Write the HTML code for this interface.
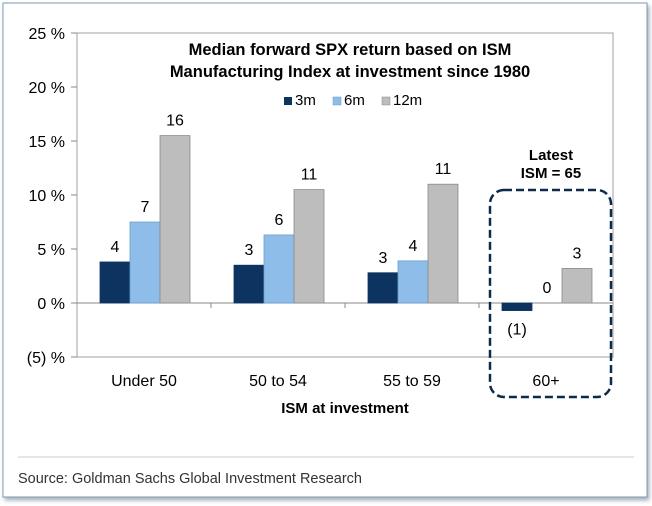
<!DOCTYPE html>
<html><head><meta charset="utf-8"><style>
html,body{margin:0;padding:0;background:#fff;width:652px;height:506px;overflow:hidden}
svg{display:block;font-family:"Liberation Sans",Arial,sans-serif}
</style></head><body>
<svg width="652" height="506" viewBox="0 0 652 506">
<defs><filter id="sh" x="-5%" y="-5%" width="110%" height="110%"><feDropShadow dx="2" dy="3" stdDeviation="2" flood-color="#6a7f90" flood-opacity="0.6"/></filter></defs>
<rect x="3" y="3" width="644" height="494" fill="#fff" stroke="#7d9ab0" stroke-width="1" filter="url(#sh)"/>
<g id="plot"></g>
<text x="350" y="55" text-anchor="middle" font-size="16.5" font-weight="bold">Median forward SPX return based on ISM</text>
<text x="350" y="77" text-anchor="middle" font-size="16.5" font-weight="bold">Manufacturing Index at investment since 1980</text>
<g font-size="15">
<rect x="284" y="97" width="8" height="8" fill="#0d3460"/><text x="295" y="105">3m</text>
<rect x="333" y="97" width="8" height="8" fill="#8dbde8" stroke="#6d9dc8" stroke-width="0.5"/><text x="344" y="105">6m</text>
<rect x="382" y="97" width="8" height="8" fill="#bdbdbd" stroke="#888" stroke-width="0.5"/><text x="393" y="105">12m</text>
</g>
<text x="551" y="160" text-anchor="middle" font-size="15" font-weight="bold">Latest</text>
<text x="551" y="178" text-anchor="middle" font-size="15" font-weight="bold">ISM = 65</text>
<rect x="490" y="190" width="121" height="207" rx="14" fill="none" stroke="#0d2a4d" stroke-width="2.5" stroke-dasharray="8,4"/>
<text x="345" y="413" text-anchor="middle" font-size="15" font-weight="bold">ISM at investment</text>
<line x1="18" y1="457" x2="634" y2="457" stroke="#ccc" stroke-width="1"/>
<text x="18" y="483" font-size="15" fill="#333" textLength="344" lengthAdjust="spacingAndGlyphs">Source: Goldman Sachs Global Investment Research</text>
</svg>
<script>
const categories = ["Under 50","50 to 54","55 to 59","60+"];
const series3m = [3.8, 3.5, 2.8, -0.7];
const series6m = [7.5, 6.3, 3.9, 0];
const series12m = [15.5, 10.5, 11.0, 3.2];
const labels3m = ["4","3","3","(1)"];
const labels6m = ["7","6","4","0"];
const labels12m = ["16","11","11","3"];
const yTicks = [25,20,15,10,5,0,-5];
const yTickLabels = ["25 %","20 %","15 %","10 %","5 %","0 %","(5) %"];

const NS="http://www.w3.org/2000/svg";
const g=document.getElementById('plot');
const L=77,R=613,T=33,B=357,ymin=-5,ymax=25;
const y=v=>B-(v-ymin)/(ymax-ymin)*(B-T);
const cw=(R-L)/categories.length;
const x=i=>L+i*cw;
function mk(tag,a){const e=document.createElementNS(NS,tag);for(const k in a)e.setAttribute(k,a[k]);g.appendChild(e);return e;}
let e=mk('rect',{x:L,y:T,width:R-L,height:B-T,fill:'none',stroke:'#a0a0a0','stroke-width':1});


yTicks.forEach((t,i)=>{
  let tk=mk('line',{x1:L-6,x2:L,y1:y(t),y2:y(t),stroke:'#888'});
  
  
  let tx=mk('text',{x:L-12,y:y(t)+6,'text-anchor':'end','font-size':16});
  tx.textContent=yTickLabels[i];
  
  
});
e=mk('line',{x1:L,x2:R,y1:y(0),y2:y(0),stroke:'#888'});


const series=[[series3m,labels3m,'#0d3460','#0d3460','3m'],[series6m,labels6m,'#8dbde8','#6d9dc8','6m'],[series12m,labels12m,'#bdbdbd','#8a8a8a','12m']];
const bw=30,off=23;
categories.forEach((c,i)=>{
  if(i>0){let tk=mk('line',{x1:x(i),x2:x(i),y1:y(0),y2:y(0)+5,stroke:'#888'});
    
    }
  let cl=mk('text',{x:x(i)+cw/2,y:386,'text-anchor':'middle','font-size':16});
  cl.textContent=c;
  
  
  series.forEach((s,j)=>{
    const v=s[0][i];const bx=x(i)+off+j*bw;
    const top=Math.min(y(v),y(0)),h=Math.abs(y(v)-y(0));
    let b=mk('rect',{x:bx,y:top,width:bw,height:Math.max(h,0),fill:s[2],stroke:s[3],'stroke-width':0.8});
    
    
    const ly=v>=0?y(v)-10:y(v)+24;
    let lb=mk('text',{x:bx+bw/2,y:ly,'text-anchor':'middle','font-size':16});
    lb.textContent=s[1][i];
    
    
  });
});
</script>
</body></html>
